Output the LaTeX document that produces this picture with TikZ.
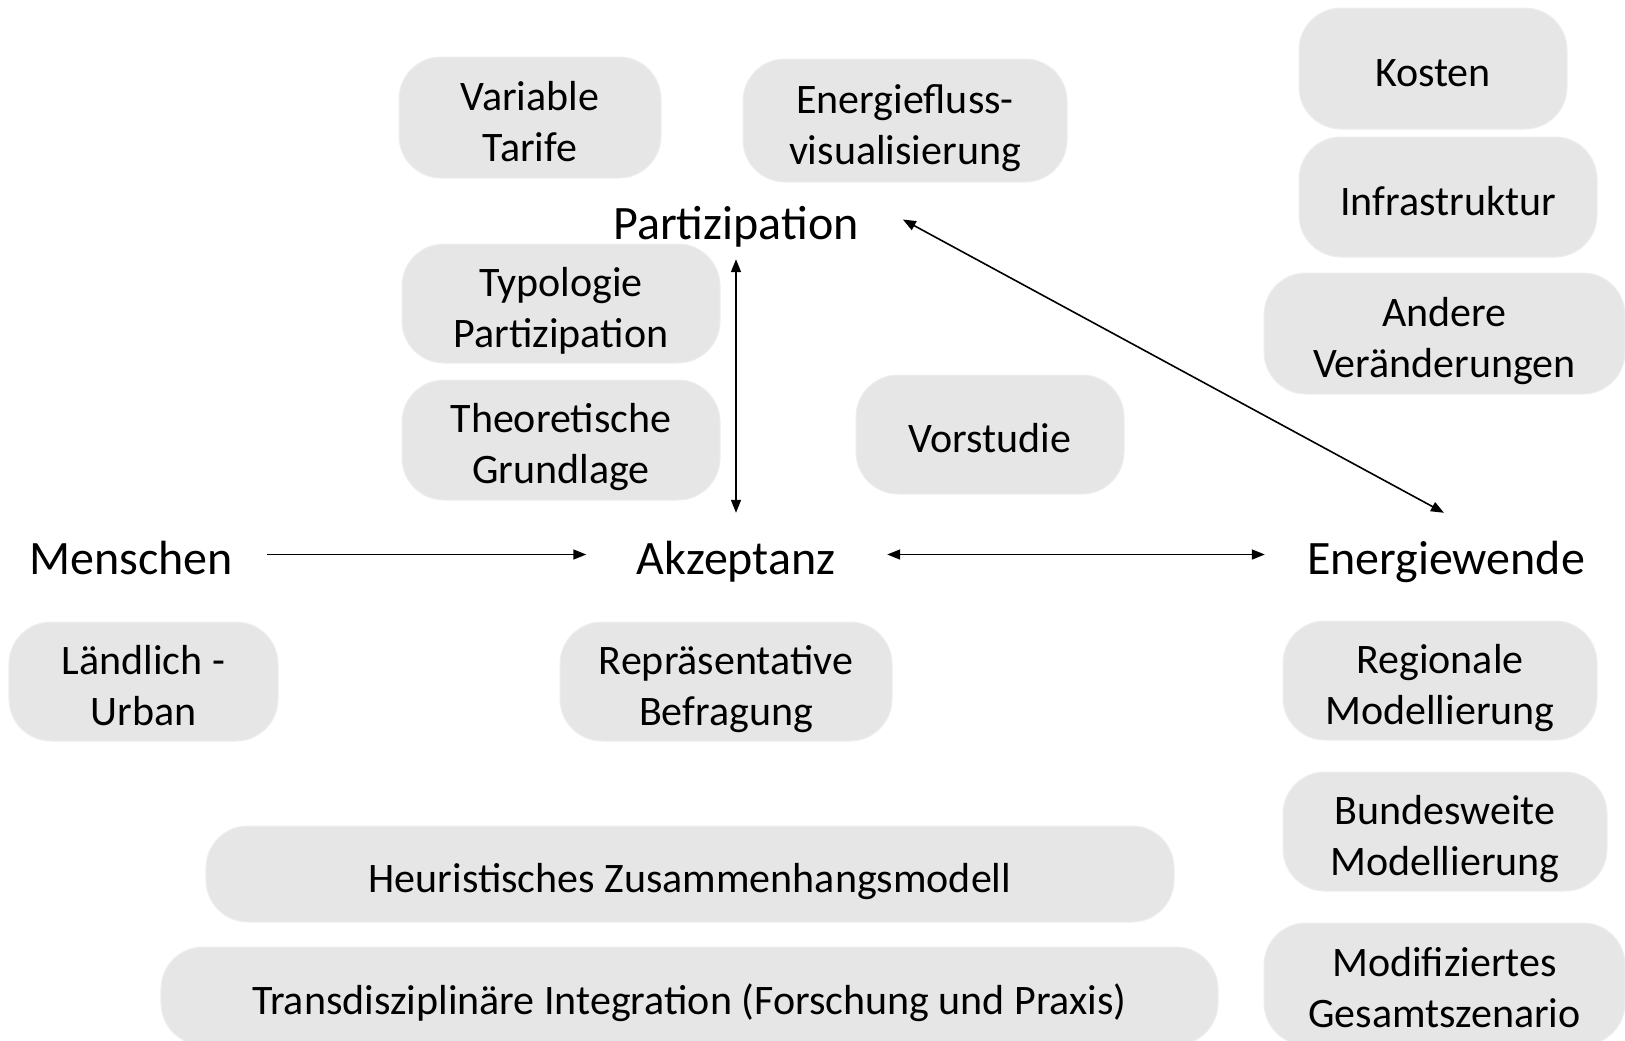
\documentclass[tikz,border=0pt]{standalone}
\usepackage{fontspec}
\setmainfont{Carlito}
\usetikzlibrary{arrows.meta}
\definecolor{boxfill}{RGB}{230,230,230}
\definecolor{boxline}{RGB}{238,238,238}
\newcommand\pilltext[1]{\setbox0\hbox{\begin{tabular}{@{}c@{}}#1\end{tabular}}\ht0=\dimexpr\ht0+16bp\relax\box0}
\begin{document}
\begin{tikzpicture}[x=1bp,y=-1bp,
 pill/.style={rectangle, rounded corners=42bp, fill=boxfill, draw=boxline, line width=1bp, inner sep=0pt, font=\fontsize{42bp}{51bp}\selectfont},
 lbl/.style={inner sep=0pt, text height=40bp, text depth=1bp, font=\fontsize{48bp}{58bp}\selectfont},
 tip/.tip={Triangle[length=13bp,width=10bp]},
 arr/.style={line width=1.6bp, -tip},
 darr/.style={line width=1.6bp, tip-tip}]
\useasboundingbox (0,0) rectangle (1625,1040);
\clip (0,0) rectangle (1625,1040);
% boxes
\node[pill, minimum width=262bp, minimum height=121bp] (vt) at (530,117.5) {\pilltext{Variable\\Tarife}};
\node[pill, minimum width=324bp, minimum height=123bp] (ef) at (905,120.5) {\pilltext{Energiefluss-\\visualisierung}};
\node[pill, minimum width=318bp, minimum height=119bp] (tp) at (561,303.5) {\pilltext{Typologie\\Partizipation}};
\node[pill, minimum width=318bp, minimum height=120bp] (tg) at (561,440) {\pilltext{Theoretische\\Grundlage}};
\node[pill, minimum width=268bp, minimum height=119bp] (vs) at (990,434.5) {\pilltext{Vorstudie}};
\node[pill, minimum width=268bp, minimum height=121bp] (ko) at (1433,68.5) {\pilltext{Kosten}};
\node[pill, minimum width=298bp, minimum height=120bp] (is) at (1448,197) {\pilltext{Infrastruktur}};
\node[pill, minimum width=361bp, minimum height=121bp] (av) at (1444.5,333.5) {\pilltext{Andere\\Veränderungen}};
\node[pill, minimum width=269bp, minimum height=119bp] (lu) at (143.5,681.5) {\pilltext{Ländlich -\\Urban}};
\node[pill, minimum width=332bp, minimum height=119bp] (rb) at (726,681.5) {\pilltext{Repräsentative\\Befragung}};
\node[pill, minimum width=314bp, minimum height=119bp] (rm) at (1440,680.5) {\pilltext{Regionale\\Modellierung}};
\node[pill, minimum width=324bp, minimum height=119bp] (bm) at (1445,831.5) {\pilltext{Bundesweite\\Modellierung}};
\node[pill, minimum width=361bp, minimum height=122bp] (mg) at (1444.5,984) {\pilltext{Modifiziertes\\Gesamtszenario}};
\node[pill, minimum width=968bp, minimum height=96bp] (hz) at (690,874) {\pilltext{Heuristisches Zusammenhangsmodell}};
\node[pill, minimum width=1057bp, minimum height=98bp] (td) at (689.5,996) {\pilltext{Transdisziplinäre Integration (Forschung und Praxis)}};
% labels
\node[lbl, anchor=base] (p) at (736,239) {Partizipation};
\node[lbl, anchor=base] (a) at (736,574) {Akzeptanz};
\node[lbl, anchor=base] (m) at (131,574) {Menschen};
\node[lbl, anchor=base] (e) at (1446,574) {Energiewende};
% connectors
\draw[arr] ([xshift=34bp]m.east) -- ([xshift=-50bp]a.west);
\draw[darr] ([yshift=-19bp]p.south) -- ([yshift=21bp]a.north);
\draw[darr] ([xshift=51.5bp]a.east) -- ([xshift=-42bp]e.west);
\draw[darr] ([xshift=44bp]p.east) -- ([xshift=-2bp,yshift=21bp]e.north);
\end{tikzpicture}
\end{document}
